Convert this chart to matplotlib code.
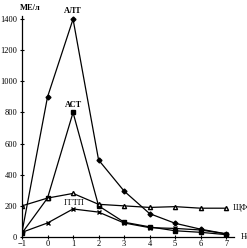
import matplotlib.pyplot as plt

weeks = [-1, 0, 1, 2, 3, 4, 5, 6, 7]
alt = [30, 900, 1400, 495, 295, 150, 88, 50, 20]
ast = [25, 250, 800, 200, 95, 65, 40, 30, 15]
alp = [200, 250, 280, 210, 200, 190, 195, 185, 185]
ggtp = [30, 90, 180, 160, 90, 60, 55, 45, 20]

y_ticks = [0, 200, 400, 600, 800, 1000, 1200, 1400]
x_ticks = [-1, 0, 1, 2, 3, 4, 5, 6, 7]

plt.rcParams["font.family"] = ["Liberation Serif", "DejaVu Serif"]

fig = plt.figure(figsize=(2.47, 2.48), dpi=100)
ax = fig.add_axes([0.089, 0.0444, 0.858, 0.891])

kw = dict(color="black", linewidth=0.9, markersize=3)
ax.plot(weeks, alt, marker="D", markersize=2.5, color="black", linewidth=0.9)
ax.plot(weeks, ast, marker="s", **kw)
ax.plot(weeks, alp, marker="^", markerfacecolor="white", **kw)
ax.plot(weeks, ggtp, marker="x", **kw)

ax.set_xlim(-1, 7.3)
ax.set_ylim(0, 1420)
ax.set_xticks(x_ticks)
ax.set_yticks(y_ticks)
ax.tick_params(direction="inout", length=3, width=0.8, labelsize=6, pad=2)
ax.tick_params(axis="x", pad=1)
for s in ("top", "right"):
    ax.spines[s].set_visible(False)
for s in ("left", "bottom"):
    ax.spines[s].set_linewidth(0.9)

ax.text(1, 1450, "АЛТ", fontsize=6, ha="center", va="center", weight="bold", clip_on=False)
ax.text(1, 850, "АСТ", fontsize=6, ha="center", va="center", weight="bold")
ax.text(1.05, 218, "ГГТП", fontsize=6, ha="center", va="center")
ax.text(7.25, 185, "ЩФ", fontsize=6, ha="left", va="center", clip_on=False)
ax.text(-1.1, 1470, "МЕ/л", fontsize=6, ha="left", va="center", weight="bold", clip_on=False)
ax.text(7.55, 0, "Недели", fontsize=6, ha="left", va="center", clip_on=False)

fig.savefig("out.png", dpi=100)
